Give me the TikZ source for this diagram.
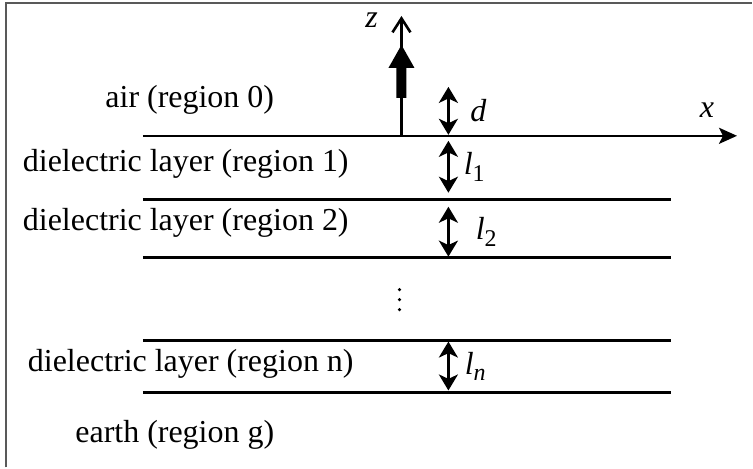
\documentclass[tikz,border=0pt]{standalone}
\usepackage{fontspec}
\setmainfont{Liberation Serif}
\usetikzlibrary{arrows.meta}

\tikzset{
  layerline/.style={line width=1.3pt},
  dimhead/.tip={Stealth[length=8pt,width=9.5pt,inset=2.2pt]},
  dimarrow/.style={line width=1.4pt, dimhead-dimhead},
  regionlabel/.style={font=\fontsize{16}{19}\selectfont, inner sep=0pt},
  symlabel/.style={font=\fontsize{16}{19}\selectfont\itshape, inner sep=0pt},
  frameline/.style={line width=1pt, draw=black!65},
}

\begin{document}
\begin{tikzpicture}[x=0.5pt, y=-0.5pt]
  \fill[white] (0,0) rectangle (754,469);
  \useasboundingbox (0,0) rectangle (753,468);

  % partial frame (left and top edges)
  \draw[frameline] (6.5,468) -- (6.5,3) -- (753,3);

  % interface lines
  \coordinate (x0) at (143,136);
  \coordinate (x1) at (738,136);
  \draw[layerline, -{Stealth[length=9pt,width=8pt,inset=2pt]}] (x0) -- (x1);
  \foreach \y/\n in {200/a, 258/b, 341/c, 393/e} {
    \coordinate (L\n) at (143,\y);
    \coordinate (R\n) at (672,\y);
    \draw[layerline] (L\n) -- (R\n);
  }

  % z axis with source dipole
  \coordinate (z0) at (402,136);
  \coordinate (z1) at (402,16);
  \draw[line width=1.3pt, -{Straight Barb[length=7pt,width=9pt,line width=1.3pt]}] (z0) -- (z1);
  \fill (397,98) -- (407,98) -- (407,68) -- (415,68) -- (402,45) -- (389,68) -- (397,68) -- cycle;

  % dimension arrows
  \coordinate (d0) at (449,87);   \coordinate (d1) at (449,135);
  \coordinate (a0) at (449,141);  \coordinate (a1) at (449,193);
  \coordinate (b0) at (449,207);  \coordinate (b1) at (449,257);
  \coordinate (n0) at (449,342);  \coordinate (n1) at (449,391);
  \draw[dimarrow] (d0) -- (d1);
  \draw[dimarrow] (a0) -- (a1);
  \draw[dimarrow] (b0) -- (b1);
  \draw[dimarrow] (n0) -- (n1);

  % symbols
  \node[symlabel] (zl) at (372,20) {z};
  \node[symlabel] (xl) at (708,110) {x};
  \node[symlabel] (dl) at (479,111) {d};
  \node[symlabel, anchor=west] (l1) at (464,167) {l\raisebox{-0.45ex}{\upshape\fontsize{12}{14}\selectfont 1}};
  \node[symlabel, anchor=west] (l2) at (476,232) {l\raisebox{-0.45ex}{\upshape\fontsize{12}{14}\selectfont 2}};
  \node[symlabel, anchor=west] (ln) at (465,367) {l\raisebox{-0.45ex}{\fontsize{12}{14}\selectfont n}};

  % vertical ellipsis
  \foreach \y in {290,300,310} \fill (400,\y) circle (1.8);

  % region names
  \node[regionlabel] (r0) at (190,100) {air (region 0)};
  \node[regionlabel] (r1) at (186,164) {dielectric layer (region 1)};
  \node[regionlabel] (r2) at (186,223) {dielectric layer (region 2)};
  \node[regionlabel] (rn) at (191,364) {dielectric layer (region n)};
  \node[regionlabel] (rg) at (175,435) {earth (region g)};
\end{tikzpicture}
\end{document}
